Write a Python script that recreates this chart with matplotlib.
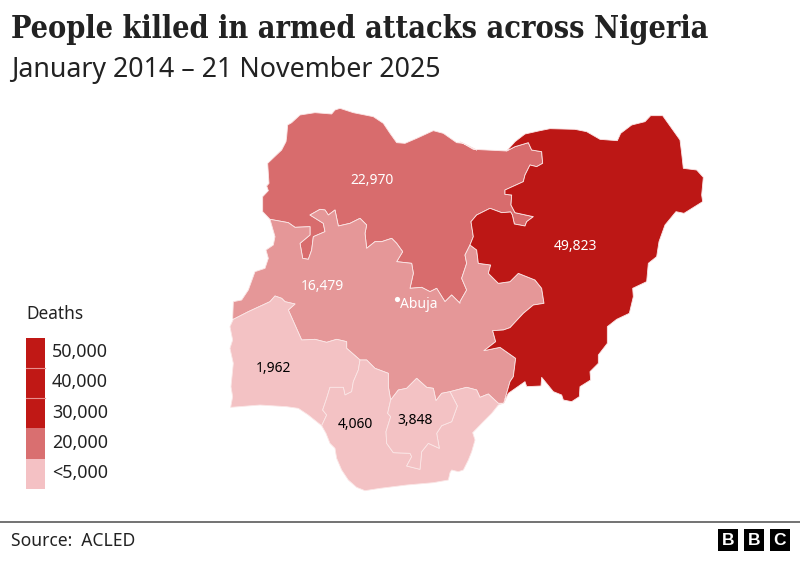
import matplotlib

matplotlib.use("Agg")

import matplotlib.pyplot as plt
from matplotlib.patches import Polygon, Rectangle

ZOOM_NW = (220, 100)
ZOOM_NE = (460, 100)
ZOOM_SOUTH = (220, 280)

nw_outer_west = [(128, 335), (128, 290), (145, 272), (140, 258), (147, 250), (143, 190), (185, 150), (198, 125),
                 (200, 110), (203, 75), (215, 68), (240, 45), (285, 38), (335, 42), (345, 30), (360, 25), (400, 38),
                 (460, 50), (490, 70), (510, 100), (530, 128), (555, 130), (590, 115), (640, 92), (670, 100),
                 (710, 128), (730, 130), (770, 150)]
nw_outer_east = [(0, 125), (40, 148), (140, 153)]
# north-west / north-east border, from the northern frontier down to the junction
nw_ne_border = [(140, 153), (165, 140), (205, 128), (215, 150), (245, 155), (248, 190), (230, 200), (210, 195),
                (195, 225), (190, 245), (135, 270), (135, 283), (155, 285), (153, 315), (165, 338), (220, 350),
                (200, 365), (195, 378), (163, 372), (157, 345), (152, 336), (125, 338), (90, 325), (50, 345),
                (33, 365), (40, 410), (30, 435)]
# north-west / north-central border, east to west
nw_nc_border = [(30, 435), (15, 465), (20, 490), (5, 535), (20, 570), (0, 605)]
nw_nc_border_west = [(720, 610), (695, 585), (675, 605), (650, 565), (630, 575), (605, 562),
                     (570, 565), (580, 520), (575, 490), (530, 485), (548, 455), (530, 430), (515, 415), (485, 425),
                     (465, 425), (440, 445), (435, 400), (440, 375), (420, 355), (390, 370), (355, 378), (345, 330),
                     (325, 345), (315, 330), (300, 328), (270, 345), (310, 370), (315, 395), (280, 410), (275, 450),
                     (265, 478), (248, 475), (240, 430), (270, 405), (270, 380), (225, 382), (205, 368), (150, 358)]
nc_outer_west = [(150, 358), (165, 410), (160, 435), (138, 450), (145, 475), (135, 505), (105, 515), (85, 570),
                 (65, 600), (40, 605), (38, 655)]
ne_outer = [(140, 153), (165, 125), (195, 102), (240, 92), (270, 86), (345, 88), (380, 95), (420, 118), (472, 122),
            (482, 100), (515, 75), (555, 65), (572, 47), (608, 47), (660, 120), (665, 160), (670, 205), (710, 210),
            (730, 232), (725, 285), (728, 305), (672, 340), (648, 335), (615, 375), (597, 425), (590, 470),
            (565, 490), (560, 545), (518, 565), (520, 590), (508, 640), (470, 658), (442, 680), (442, 730),
            (415, 765), (415, 790), (390, 815), (392, 840), (360, 860), (358, 890), (335, 905), (310, 900),
            (305, 885), (280, 875), (245, 832), (243, 858), (200, 860), (195, 845), (145, 880), (132, 908)]
ne_nc_border = [(132, 908), (150, 845), (160, 830), (167, 775), (120, 742), (72, 752), (107, 725), (98, 692),
                (130, 690), (150, 683), (190, 640), (220, 615), (252, 610), (245, 565), (225, 540), (175, 520),
                (150, 545), (115, 550), (85, 520), (92, 495), (55, 490), (50, 450), (30, 435)]
# south borders, all in the third crop
sw_nc_border = [(40, 118), (85, 95), (150, 65), (165, 48), (185, 55), (195, 65), (225, 72), (205, 90), (245, 180),
                (285, 178), (320, 187), (350, 178), (380, 185), (380, 205), (420, 240)]
ss_nc_border_west = [(420, 240), (440, 240), (465, 265), (505, 280), (505, 320), (512, 360)]
se_nc_border = [(512, 360), (535, 330), (560, 325), (590, 295), (620, 322), (640, 325), (648, 362), (665, 340),
                (690, 335)]
ss_nc_border_east = [(690, 335), (740, 322), (770, 330), (780, 352), (805, 342), (835, 370), (850, 370)]
sw_outer = [(40, 118), (30, 140), (38, 180), (30, 205), (40, 250), (33, 320), (38, 350), (32, 382), (120, 375),
            (200, 380), (235, 385), (265, 405), (305, 437)]
sw_ss_border = [(305, 437), (320, 405), (308, 390), (320, 355), (330, 322), (370, 322), (375, 345), (395, 335),
                (400, 305), (415, 270), (420, 240)]
ss_coast = [(305, 437), (318, 460), (330, 490), (345, 505), (350, 535), (365, 570), (385, 600), (410, 622),
            (435, 632), (480, 625), (560, 615), (640, 608), (685, 600), (690, 578), (695, 570), (715, 575),
            (730, 570), (745, 540), (755, 515), (765, 480), (758, 458), (790, 425), (815, 400), (835, 375),
            (850, 370)]
se_lower_border = [(512, 360), (503, 400), (512, 410), (498, 455), (500, 490), (520, 518), (570, 520), (575, 530),
                   (560, 558), (600, 568), (605, 515), (625, 490), (658, 505), (650, 460), (665, 437), (695, 425),
                   (712, 378), (690, 335)]

region_values = ["22,970", "49,823", "16,479", "1,962", "4,060", "3,848"]
legend_labels = ["50,000", "40,000", "30,000", "20,000", "<5,000"]
legend_colors = ["#c01815", "#c01815", "#c01815", "#d96f70", "#f4c1c4"]

COLOR_NE = "#bc1715"
COLOR_NW = "#d86c6d"
COLOR_NC = "#e59798"
COLOR_SOUTH = "#f3c2c4"
EDGE = "#fbe6e6"
FONT = "Noto Sans"


def to_px(points, crop):
    return [(crop[0] + x / 3, crop[1] + y / 3) for x, y in points]


def region(ax, points, color):
    ax.add_patch(Polygon(points, closed=True, facecolor=color, edgecolor=EDGE, linewidth=0.6, joinstyle="round"))


nw_shape = (to_px(nw_outer_west, ZOOM_NW) + to_px(nw_outer_east, ZOOM_NE) + to_px(nw_ne_border, ZOOM_NE)
            + to_px(nw_nc_border, ZOOM_NE) + to_px(nw_nc_border_west, ZOOM_NW))
ne_shape = to_px(ne_outer, ZOOM_NE) + to_px(ne_nc_border, ZOOM_NE) + to_px(nw_ne_border[::-1], ZOOM_NE)
south_nc = (to_px(sw_nc_border, ZOOM_SOUTH) + to_px(ss_nc_border_west, ZOOM_SOUTH) + to_px(se_nc_border, ZOOM_SOUTH)
            + to_px(ss_nc_border_east, ZOOM_SOUTH))
nc_shape = (to_px(nc_outer_west[::-1], ZOOM_NW) + to_px(nw_nc_border_west[::-1], ZOOM_NW)
            + to_px(nw_nc_border[::-1], ZOOM_NE) + to_px(ne_nc_border[::-1], ZOOM_NE) + south_nc[::-1])
sw_shape = to_px(sw_outer, ZOOM_SOUTH) + to_px(sw_ss_border, ZOOM_SOUTH) + to_px(sw_nc_border[::-1], ZOOM_SOUTH)
ss_shape = (to_px(ss_coast, ZOOM_SOUTH) + to_px(ss_nc_border_east[::-1], ZOOM_SOUTH)
            + to_px(se_lower_border[::-1], ZOOM_SOUTH) + to_px(ss_nc_border_west[::-1], ZOOM_SOUTH)
            + to_px(sw_ss_border[::-1], ZOOM_SOUTH))
se_shape = to_px(se_nc_border, ZOOM_SOUTH) + to_px(se_lower_border[::-1], ZOOM_SOUTH)

fig = plt.figure(figsize=(8, 5.62), dpi=100)
ax = fig.add_axes([0, 0, 1, 1])
ax.set_xlim(0, 800)
ax.set_ylim(562, 0)
ax.axis("off")

region(ax, nw_shape, COLOR_NW)
region(ax, nc_shape, COLOR_NC)
region(ax, ne_shape, COLOR_NE)
region(ax, sw_shape, COLOR_SOUTH)
region(ax, ss_shape, COLOR_SOUTH)
region(ax, se_shape, COLOR_SOUTH)

ax.text(11, 38, "People killed in armed attacks across Nigeria", family="DejaVu Serif", weight="bold",
        stretch="condensed", fontsize=22, va="baseline", color="#222222")
ax.text(11, 76.5, "January 2014 – 21 November 2025", family=FONT, fontsize=19.3, va="baseline", color="#222222")

label_xy = [(372, 180), (575, 246), (322, 286), (273, 368), (355, 425), (415, 421)]
label_colors = ["white", "white", "white", "black", "black", "black"]
for value, (x, y), color in zip(region_values, label_xy, label_colors):
    ax.text(x, y, value, family=FONT, fontsize=10, ha="center", va="center", color=color)

ax.scatter([397], [299], s=14, color="white", zorder=3, linewidths=0)
ax.text(400, 304, "Abuja", family=FONT, fontsize=10, va="center", color="white")

# legend
ax.text(26, 314, "Deaths", family=FONT, fontsize=12.4, va="center", color="#222222")
legend_tops = [337.5, 367.5, 398, 428, 459]
legend_bottoms = [367.5, 398, 428, 459, 489]
for label, color, top, bottom in zip(legend_labels, legend_colors, legend_tops, legend_bottoms):
    ax.add_patch(Rectangle((26, top), 19, bottom - top, facecolor=color, edgecolor="none"))
    ax.text(52, (top + bottom) / 2 - 0.5, label, family=FONT, fontsize=12.9, va="center", color="#222222")
for sep in legend_tops[1:3]:
    ax.plot([26, 45], [sep, sep], color="#e88f8e", linewidth=0.8)

# footer
ax.plot([0, 800], [522, 522], color="#5a5a5a", linewidth=1.2)
ax.text(11, 540.5, "Source:  ACLED", family=FONT, fontsize=12.6, va="center", color="#222222")
for letter, left in zip("BBC", [718, 744, 770]):
    ax.add_patch(Rectangle((left, 529), 20, 21.5, facecolor="black", edgecolor="none"))
    ax.text(left + 10, 540.8, letter, family="Liberation Sans", weight="bold", fontsize=12.5, ha="center",
            va="center", color="white")

fig.savefig("out.png", dpi=100)
